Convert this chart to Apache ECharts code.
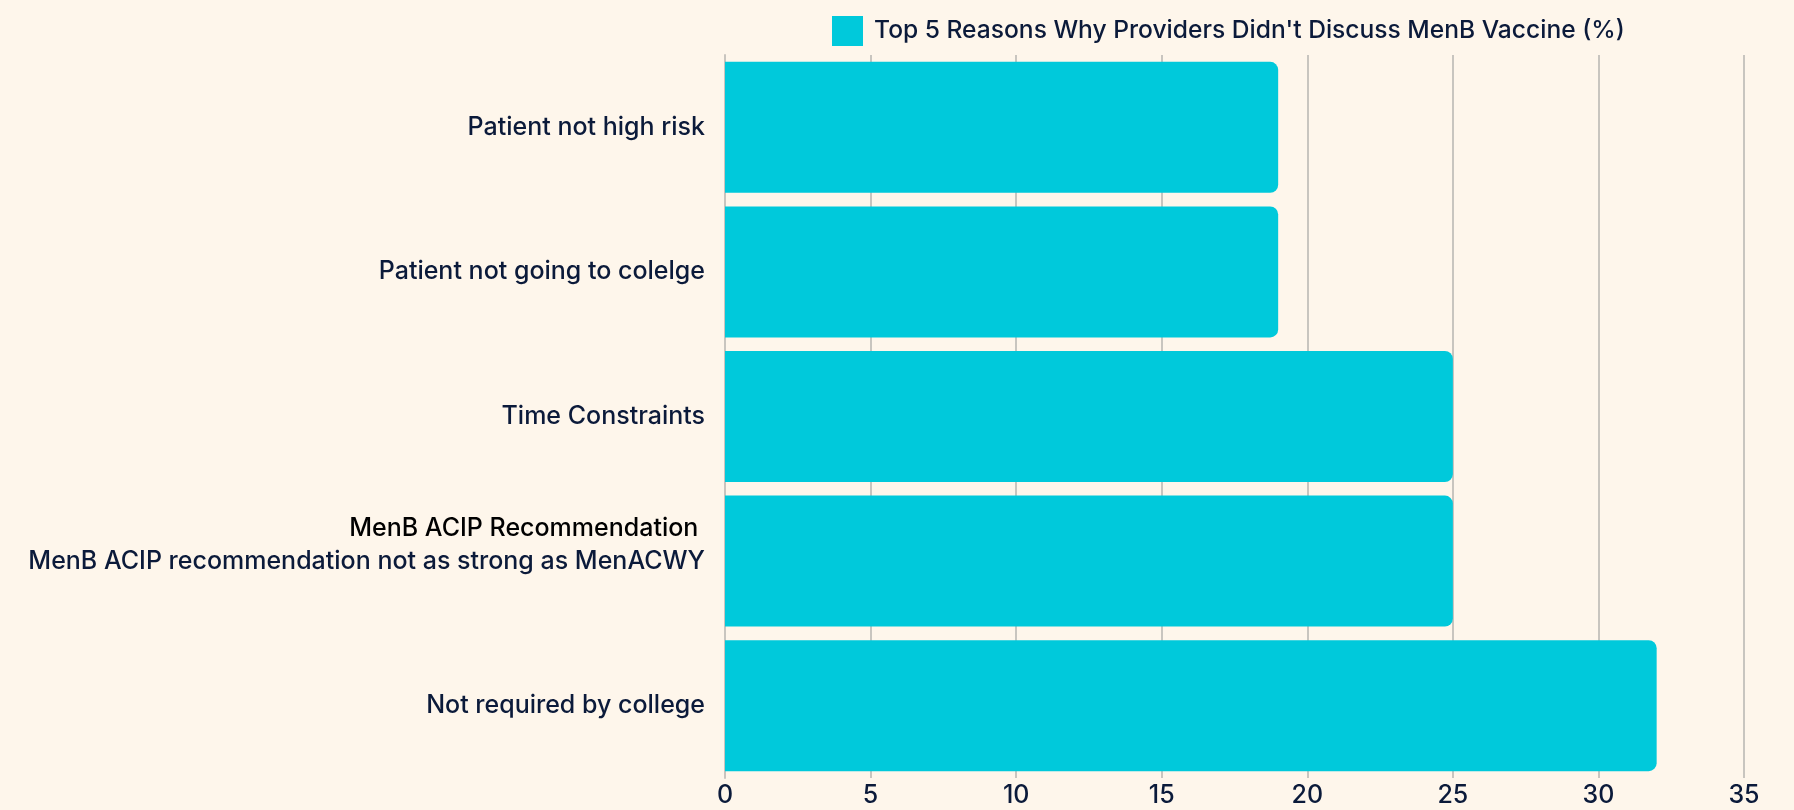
<!DOCTYPE html>
<html>
<head>
<meta charset="utf-8">
<script src="https://cdn.jsdelivr.net/npm/echarts@6/dist/echarts.min.js"></script>
<style>
html,body{margin:0;padding:0;background:#FEF6EB;}
#chart{width:1794px;height:810px;}
</style>
</head>
<body>
<div id="chart"></div>
<script>
var categories = [
  'Patient not high risk',
  'Patient not going to colelge',
  'Time Constraints',
  'MenB ACIP Recommendation',
  'Not required by college'
];
var values = [19, 19, 25, 25, 32];
var seriesName = "Top 5 Reasons Why Providers Didn't Discuss MenB Vaccine (%)";
var xTicks = {min: 0, max: 35, interval: 5};

var FONT = 'Inter, Liberation Sans, Arial, sans-serif';
var FS = 25;
var FW = 500;
var chart = echarts.init(document.getElementById('chart'));
var textColor = '#0B1a3a';
chart.setOption({
  backgroundColor: '#FEF6EB',
  animation: false,
  textStyle: {fontFamily: FONT},
  legend: {
    left: 827, top: 11,
    icon: 'rect',
    itemWidth: 31, itemHeight: 30, itemGap: 10,
    textStyle: {fontSize: 24.6, fontWeight: FW, color: textColor, fontFamily: FONT, padding: [0, 0, 0, 6]},
    data: [seriesName]
  },
  grid: {left: 725, right: 50, top: 55, bottom: 32, containLabel: false},
  xAxis: {
    type: 'value', min: xTicks.min, max: xTicks.max, interval: xTicks.interval,
    axisLine: {show: false}, axisTick: {show: false},
    axisLabel: {fontSize: FS, fontWeight: FW, color: textColor, margin: 5, fontFamily: FONT},
    splitLine: {show: true, lineStyle: {color: '#c8c5bf', width: 2}}
  },
  yAxis: {
    type: 'category', inverse: true, data: categories,
    axisLine: {show: true, lineStyle: {color: '#c8c5bf', width: 2}},
    axisTick: {show: false},
    axisLabel: {
      fontSize: FS, fontWeight: FW, color: textColor, margin: 20, fontFamily: FONT,
      formatter: function (v) {
        if (v === 'MenB ACIP Recommendation') {
          return '{a|MenB ACIP Recommendation }\n{b|MenB ACIP recommendation not as strong as MenACWY}\n{c| }';
        }
        return v;
      },
      rich: {
        a: {fontSize: FS, fontWeight: FW, color: '#000000', lineHeight: 33, align: 'right', fontFamily: FONT},
        b: {fontSize: FS, fontWeight: FW, color: textColor, lineHeight: 33, align: 'right', fontFamily: FONT},
        c: {fontSize: FS, fontWeight: FW, color: textColor, lineHeight: 33, align: 'right', fontFamily: FONT}
      }
    }
  },
  series: [{
    name: seriesName,
    type: 'bar',
    data: values,
    barWidth: 131,
    itemStyle: {color: '#00C9DB', borderRadius: [0, 8, 8, 0]}
  }]
});
</script>
</body>
</html>
